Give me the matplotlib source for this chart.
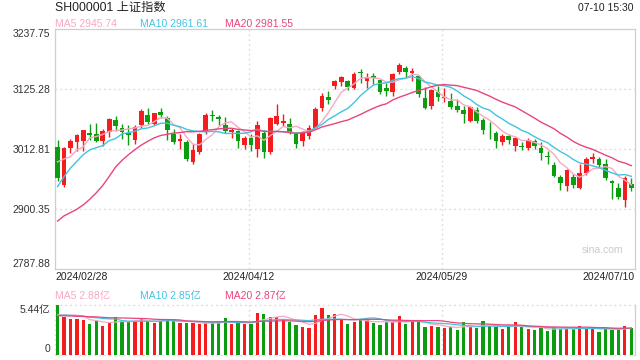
import matplotlib
matplotlib.use("Agg")
import matplotlib.pyplot as plt
import numpy as np
import pandas as pd
from matplotlib.transforms import blended_transform_factory

plt.rcParams["font.family"] = ["Liberation Sans", "Noto Sans CJK SC", "DejaVu Sans"]

# daily closes before the window, only used to warm up the moving averages
prior_close = [2820.77, 2906.11, 2910.22, 2883.36, 2830.53, 2788.55, 2770.74, 2730.15, 2702.19,
               2789.49, 2829.70, 2865.90, 2910.54, 2922.73, 2950.96, 2988.36, 3004.88, 2977.02, 3015.48]
prior_vol = [4.0, 4.3, 4.5, 4.2, 4.0, 3.9, 4.1, 4.4, 4.2, 4.0, 3.8, 4.1, 4.2, 4.3, 4.5, 4.2, 4.0, 3.9, 4.1]

# 2024/02/28 .. 2024/07/10 (90 sessions)
opens = [3016, 2945, 3014, 3025, 3027, 3042, 3040, 3028, 3044, 3068,
         3053, 3043, 3030, 3057, 3076, 3060, 3083, 3071, 3040, 3027,
         3026, 2988, 3008, 3045, 3077, 3073, 3057, 3045, 3046, 3020,
         3034, 3013, 3043, 3007, 3060, 3061, 3060, 3040, 3027, 3038,
         3052, 3090, 3110, 3131, 3139, 3141, 3128, 3157, 3141, 3149,
         3142, 3127, 3120, 3157, 3165, 3155, 3149, 3109, 3093, 3120,
         3109, 3102, 3094, 3085, 3066, 3085, 3068, 3053, 3042, 3025,
         3037, 3019, 3019, 3015, 3027, 3015, 3000, 2982, 2961, 2943,
         2961, 2940, 2967, 2994, 2995, 2984, 2953, 2940, 2918, 2948]
highs = [3030, 3016, 3032, 3041, 3049, 3060, 3062, 3050, 3070, 3074,
         3060, 3058, 3058, 3087, 3090, 3081, 3089, 3075, 3050, 3040,
         3030, 3022, 3043, 3080, 3085, 3076, 3072, 3053, 3049, 3038,
         3040, 3065, 3049, 3073, 3098, 3078, 3070, 3044, 3046, 3058,
         3092, 3118, 3122, 3143, 3150, 3143, 3158, 3163, 3156, 3155,
         3143, 3136, 3156, 3174, 3168, 3165, 3152, 3129, 3126, 3131,
         3127, 3118, 3106, 3093, 3093, 3092, 3070, 3064, 3046, 3040,
         3040, 3036, 3026, 3033, 3031, 3025, 3010, 2988, 2965, 2975,
         2966, 2984, 2997, 3005, 2998, 2994, 2955, 2950, 2963, 2958]
lows = [2952, 2942, 3005, 3009, 3010, 3030, 3025, 3018, 3036, 3047,
        3032, 3020, 3023, 3052, 3060, 3057, 3071, 3030, 3022, 3012,
        2990, 2985, 3004, 3040, 3065, 3058, 3043, 3034, 3014, 3012,
        3010, 2998, 2996, 3003, 3057, 3055, 3040, 3015, 3018, 3032,
        3050, 3084, 3098, 3126, 3130, 3124, 3125, 3137, 3127, 3134,
        3116, 3113, 3112, 3154, 3148, 3141, 3110, 3087, 3088, 3103,
        3100, 3088, 3083, 3062, 3063, 3062, 3041, 3032, 3014, 3021,
        3023, 3010, 3011, 3011, 3012, 2993, 2985, 2960, 2936, 2934,
        2940, 2938, 2964, 2986, 2980, 2955, 2920, 2919, 2905, 2935]
closes = [2957.85, 3015.17, 3027.02, 3039.31, 3047.79, 3039.93, 3027.40, 3046.02, 3068.46, 3055.94,
          3043.83, 3038.23, 3054.64, 3084.93, 3062.76, 3079.69, 3077.11, 3048.03, 3026.31, 3031.48,
          2993.14, 3010.66, 3041.17, 3077.38, 3074.96, 3069.30, 3047.05, 3048.54, 3027.34, 3034.25,
          3019.47, 3057.38, 3007.07, 3071.38, 3074.22, 3065.26, 3044.60, 3021.98, 3044.82, 3052.90,
          3088.64, 3113.04, 3104.82, 3140.72, 3147.74, 3128.48, 3154.32, 3154.55, 3148.02, 3145.77,
          3119.90, 3122.40, 3154.03, 3171.15, 3157.97, 3158.54, 3116.39, 3088.87, 3124.04, 3109.57,
          3111.02, 3091.68, 3086.81, 3078.49, 3091.20, 3065.40, 3048.79, 3051.28, 3028.05, 3037.47,
          3028.92, 3032.63, 3015.89, 3030.25, 3018.05, 3005.44, 2998.14, 2963.10, 2950.00, 2972.53,
          2945.85, 2967.40, 2994.73, 2997.01, 2982.38, 2957.57, 2949.93, 2922.45, 2959.37, 2939.36]
# volume, 亿
volume = [5.44, 4.11, 3.83, 3.90, 3.76, 3.33, 3.68, 3.11, 3.47, 4.08,
          3.61, 3.54, 3.61, 3.97, 3.68, 3.43, 3.65, 3.83, 3.68, 3.43,
          3.43, 3.43, 3.33, 3.43, 3.43, 3.51, 3.97, 3.33, 3.43, 3.33,
          3.33, 4.51, 4.40, 4.08, 4.08, 3.76, 3.54, 3.22, 3.00, 2.90,
          4.29, 5.08, 4.29, 4.40, 3.83, 3.33, 3.54, 3.76, 3.86, 3.43,
          3.22, 3.54, 3.54, 4.18, 3.33, 3.54, 3.54, 3.00, 3.11, 3.00,
          2.90, 3.00, 2.68, 3.54, 3.00, 2.90, 3.65, 3.11, 3.00, 2.79,
          2.97, 3.50, 2.97, 2.75, 2.65, 2.97, 2.54, 2.97, 2.75, 2.83,
          2.78, 3.08, 2.88, 2.88, 2.48, 2.85, 2.72, 2.75, 3.15, 2.93]

price_levels = [2787.88, 2900.35, 3012.81, 3125.28, 3237.75]
date_idx = [0, 30, 60, 89]
date_labels = ["2024/02/28", "2024/04/12", "2024/05/29", "2024/07/10"]

UP, DOWN = "#f41d1d", "#0c9c10"
MA_COLORS = {5: "#f7a8c4", 10: "#41c3e3", 20: "#e9457c"}
GRID = "#dcdcdc"
DOTS = (0, (1.3, 2.2))
FRAME = "#cfcfcf"


def moving_avgs(prior, values):
    s = pd.Series(list(prior) + list(values), dtype=float)
    n0 = len(prior)
    return {n: s.rolling(n).mean().to_numpy()[n0:] for n in (5, 10, 20)}


o = np.array(opens, float)
h = np.array(highs, float)
l = np.array(lows, float)
c = np.array(closes, float)
v = np.array(volume, float)
x = np.arange(len(c))
col = np.where(c >= o, UP, DOWN)

ma = moving_avgs(prior_close, c)
vma = moving_avgs(prior_vol, v)

fig = plt.figure(figsize=(6.4, 3.6), dpi=100)
ax = fig.add_axes([55 / 640, 91 / 360, 580 / 640, 240 / 360])
axv = fig.add_axes([55 / 640, 5.5 / 360, 580 / 640, 50 / 360])

xlim = (-0.4, len(c) - 0.43)
grid_x = [i - 0.36 for i in date_idx[1:3]]

# price panel
ax.vlines(x, l, h, colors=col, linewidth=1.0, zorder=2)
ax.bar(x, np.maximum(np.abs(c - o), 1.4), bottom=np.minimum(o, c), width=0.73,
       color=col, linewidth=0, zorder=3)
for n, clr in MA_COLORS.items():
    ax.plot(x, ma[n], color=clr, lw=1.0, zorder=4)

ax.set_xlim(*xlim)
ax.set_ylim(price_levels[0], price_levels[-1])
for lv in price_levels[1:-1]:
    ax.axhline(lv, color=GRID, lw=1.0, ls=DOTS, zorder=1)
for gx in grid_x:
    ax.axvline(gx, color=GRID, lw=1.0, ls=DOTS, zorder=1)
ax.set_xticks([])
ax.set_yticks(price_levels)
ax.set_yticklabels([f"{p:.2f}" for p in price_levels])
ax.tick_params(axis="y", length=0, pad=3.5, labelsize=7.5, labelcolor="#333333")
labs = ax.get_yticklabels()
labs[0].set_va("bottom")
labs[-1].set_va("top")
for sp in ax.spines.values():
    sp.set_color(FRAME)
    sp.set_linewidth(0.9)

# date labels under the price panel
tr = blended_transform_factory(ax.transData, fig.transFigure)
aligns = ["left", "center", "center", "right"]
xs = [xlim[0], grid_x[0], grid_x[1], xlim[1]]
for xx, lab, ha in zip(xs, date_labels, aligns):
    ax.text(xx, 1 - 277.5 / 360, lab, transform=tr, ha=ha, va="center",
            fontsize=7.5, color="#222222")

# volume panel
axv.bar(x, v, width=0.5, color=col, linewidth=0, zorder=2)
for n, clr in MA_COLORS.items():
    axv.plot(x, vma[n], color=clr, lw=0.9, zorder=3)
axv.set_xlim(*xlim)
axv.set_ylim(0, max(volume))
axv.axhline(0, color=GRID, lw=1.0, ls=DOTS, zorder=1, clip_on=False)
axv.axhline(max(volume), color=GRID, lw=1.0, ls=DOTS, zorder=1, clip_on=False)
axv.axvline(xlim[0], color=GRID, lw=1.0, ls=DOTS, zorder=1, clip_on=False)
for gx in grid_x:
    axv.axvline(gx, color=GRID, lw=1.0, ls=DOTS, zorder=1)
for side in ("top", "bottom", "left"):
    axv.spines[side].set_visible(False)
axv.spines["right"].set_color(FRAME)
axv.spines["right"].set_linewidth(0.9)
axv.set_xticks([])
axv.set_yticks([0, max(volume)])
axv.set_yticklabels(["0", f"{max(volume):.2f}亿"])
axv.tick_params(axis="y", length=0, pad=3.5, labelsize=7.5, labelcolor="#333333")
vl = axv.get_yticklabels()
vl[0].set_va("bottom")
vl[1].set_va("top")

# header texts
fig.text(55 / 640, 1 - 8 / 360, "SH000001 上证指数", fontsize=8.8, color="#222222", va="center")
fig.text(634 / 640, 1 - 8 / 360, "07-10 15:30", fontsize=7.5, color="#222222", va="center", ha="right")
for xp, n in zip([55, 140, 225], (5, 10, 20)):
    fig.text(xp / 640, 1 - 24 / 360, f"MA{n} {ma[n][-1]:.2f}", fontsize=7.5,
             color=MA_COLORS[n], va="center")
    fig.text(xp / 640, 1 - 295.5 / 360, f"MA{n} {vma[n][-1]:.2f}亿", fontsize=7.5,
             color=MA_COLORS[n], va="center")
fig.text(623 / 640, 1 - 250 / 360, "sina.com", fontsize=7.5, color="#cacaca", va="center", ha="right")

fig.savefig("out.png", dpi=100)
